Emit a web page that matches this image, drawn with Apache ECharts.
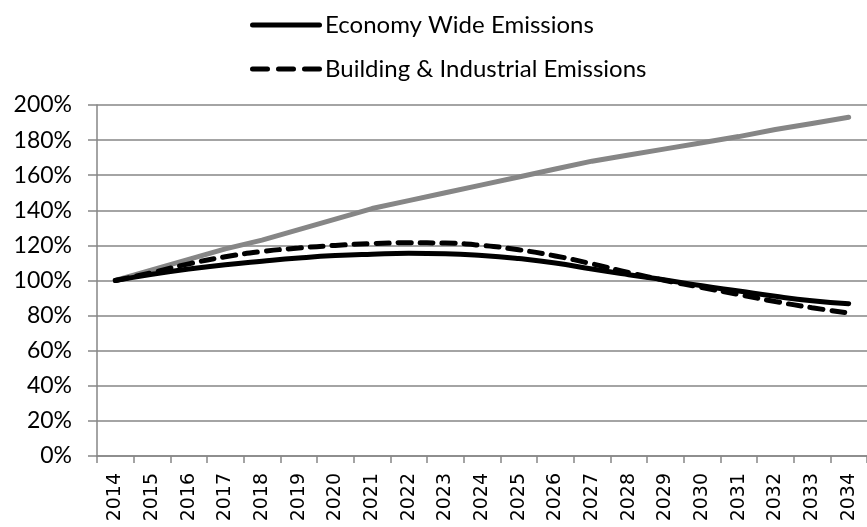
<!DOCTYPE html>
<html><head><meta charset="utf-8">
<script src="https://cdn.jsdelivr.net/npm/echarts@6/dist/echarts.min.js"></script>
<style>html,body{margin:0;padding:0;background:#fff}#c{width:867px;height:527px}</style>
</head><body><div id="c"></div>
<script>
const years = ['2014','2015','2016','2017','2018','2019','2020','2021','2022','2023','2024','2025','2026','2027','2028','2029','2030','2031','2032','2033','2034'];
const economyWide = [100,103.5,106.5,109,111,112.8,114.2,115,115.5,115.3,114.3,112.5,110,106.5,103.3,100.3,97,94,91,88.5,86.8];
const buildingIndustrial = [100,104.5,109.5,113.5,116.5,118.5,120,121,121.5,121.3,120,117.5,114,109.5,104.5,100,96,92,88,84.5,81.5];
const grayLine = [100,106,112,118,123,129,135,141,145.5,150,154.5,159,163.5,168,171.5,175,178.5,182,186,189.5,193];
const yTicks = [0,20,40,60,80,100,120,140,160,180,200];

const solidIcon = 'path://M2.5,0 L69.5,0 A2.5,2.5 0 0 1 69.5,5 L2.5,5 A2.5,2.5 0 0 1 2.5,0 Z';
const dashIcon = 'path://M2.5,0 L17.5,0 A2.5,2.5 0 0 1 17.5,5 L2.5,5 A2.5,2.5 0 0 1 2.5,0 Z ' +
  'M28.5,0 L43.5,0 A2.5,2.5 0 0 1 43.5,5 L28.5,5 A2.5,2.5 0 0 1 28.5,0 Z ' +
  'M54.5,0 L69.5,0 A2.5,2.5 0 0 1 69.5,5 L54.5,5 A2.5,2.5 0 0 1 54.5,0 Z';

const chart = echarts.init(document.getElementById('c'), null, {renderer:'canvas'});
const gridColor = '#868686';
chart.setOption({
  animation:false,
  legend:{
    orient:'vertical', left:245, top:8,
    data:[
      {name:'Economy Wide Emissions', icon:solidIcon},
      {name:'Building & Industrial Emissions', icon:dashIcon}
    ],
    itemWidth:72, itemHeight:5, itemGap:20,
    itemStyle:{color:'#000', borderWidth:0},
    textStyle:{fontFamily:'Lato', fontSize:24, color:'#000', lineHeight:23, padding:[0,0,0,-2]}
  },
  grid:{left:97, right:-4, top:105, bottom:71, containLabel:false},
  xAxis:{
    type:'category', data:years, boundaryGap:true,
    axisLine:{lineStyle:{color:gridColor, width:1.5}},
    axisTick:{show:true, length:7, lineStyle:{color:gridColor, width:1.5}},
    axisLabel:{rotate:90, margin:17, fontFamily:'DejaVu Sans', fontSize:19, color:'#000', interval:0},
    splitLine:{show:false}
  },
  yAxis:{
    type:'value', min:0, max:200, interval:20,
    axisLine:{show:true, lineStyle:{color:gridColor, width:1.5}},
    axisTick:{show:true, length:9, lineStyle:{color:gridColor, width:1.5}},
    axisLabel:{margin:25, fontFamily:'Lato', fontSize:23, color:'#000', formatter:v=>v+'%',
      customValues: yTicks},
    splitLine:{show:true, lineStyle:{color:gridColor, width:1.5}}
  },
  series:[
    {name:'Gray', type:'line', data:grayLine, symbol:'none', smooth:false,
     lineStyle:{color:'#868686', width:5, cap:'round', join:'round'}, z:2},
    {name:'Economy Wide Emissions', type:'line', data:economyWide, symbol:'none', smooth:true,
     itemStyle:{color:'#000'},
     lineStyle:{color:'#000', width:5, cap:'round'}, z:3},
    {name:'Building & Industrial Emissions', type:'line', data:buildingIndustrial, symbol:'none', smooth:true,
     itemStyle:{color:'#000'},
     lineStyle:{color:'#000', width:5, type:[13,9], cap:'round'}, z:4}
  ]
});
</script></body></html>
